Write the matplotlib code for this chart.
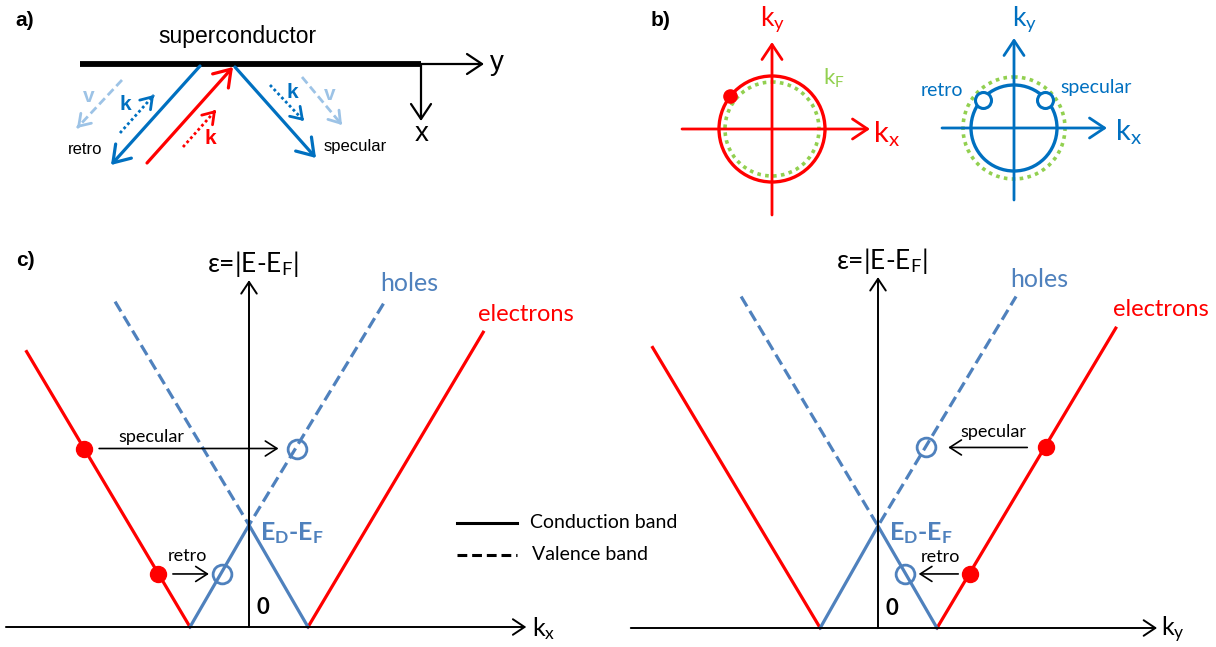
import numpy as np
import matplotlib.pyplot as plt
from matplotlib.patches import Circle

plt.rcParams['font.family'] = ['Lato', 'DejaVu Sans']
plt.rcParams['mathtext.fontset'] = 'custom'
plt.rcParams['mathtext.rm'] = 'Lato'
plt.rcParams['mathtext.it'] = 'Lato:italic'
plt.rcParams['mathtext.bf'] = 'Lato:bold'

RED = '#ff0000'
BLUE = '#0070c0'
LBLUE = '#9dc3e6'
CBLUE = '#4f81bd'
GREEN = '#92d050'
ARIAL = ['Liberation Sans', 'DejaVu Sans']

#---- Data

# panel a: sketch of the reflection geometry (pixel positions)
sc_x = [80, 421]
sc_y = [64, 64]
retro_path = [(200, 66), (111, 165)]
incident_path = [(147, 163), (233, 67)]
specular_path = [(235, 67), (316, 158)]
v_left = [(122, 80), (77, 128)]
k_left = [(120, 133), (154, 95)]
k_red = [(183, 147), (216, 110)]
k_right = [(270, 85), (304, 121)]
v_right = [(302, 77), (342, 125)]

# panel b: Fermi circles (centre x, centre y, radius in pixels)
fs_left = (772, 129, 53)
kf_left = (772, 129, 47)
fs_right = (1014, 128, 43)
kf_right = (1014, 128, 51)
dot_angle = 142
hole_b_x = [983, 1045]
hole_b_y = [100, 100]

# panel c, left: k_x in units of k_F, eps in units of E_D
elx_left_k = [-3.77, -1.0]
elx_left_e = [2.70, 0.0]
elx_right_k = [1.0, 3.97]
elx_right_e = [0.0, 2.89]
condx_k = [-1.0, 0.0, 1.0]
condx_e = [0.0, 1.0, 0.0]
valx_k = [-2.27, 0.0, 2.30]
valx_e = [3.19, 1.0, 3.19]
dotx_k = [-2.80, -1.54]
dotx_e = [1.75, 0.52]
holex_k = [0.82, -0.45]
holex_e = [1.75, 0.52]
specx_arrow = [-2.54, 0.50]
retrox_arrow = [-1.29, -0.68]

# panel c, right: k_y
ely_left_k = [-3.82, -0.98]
ely_left_e = [2.75, 0.0]
ely_right_k = [1.0, 4.03]
ely_right_e = [0.0, 2.94]
condy_k = [-0.98, 0.0, 1.0]
condy_e = [0.0, 1.0, 0.0]
valy_k = [-2.32, 0.0, 2.34]
valy_e = [3.25, 1.0, 3.25]
doty_k = [2.85, 1.56]
doty_e = [1.77, 0.53]
holey_k = [0.81, 0.46]
holey_e = [1.77, 0.53]
specy_arrow = [2.53, 1.19]
retroy_arrow = [1.36, 0.69]


#---- Helpers

def head_arrow(ax, p0, p1, color, lw, ms=15, hl=0.6, hw=0.4):
    ax.annotate('', xy=p1, xytext=p0,
                arrowprops=dict(arrowstyle='->, head_length=%g, head_width=%g' % (hl, hw),
                                color=color, lw=lw, shrinkA=0, shrinkB=0,
                                mutation_scale=ms))


def styled_arrow(ax, p0, p1, color, lw, ls):
    # line with a given style and a solid open head
    ax.plot([p0[0], p1[0]], [p0[1], p1[1]], color=color, lw=lw, ls=ls,
            solid_capstyle='butt')
    d = np.array(p1, float) - np.array(p0, float)
    d = d / np.hypot(*d)
    head_arrow(ax, tuple(np.array(p1) - 3 * d), p1, color, lw, ms=13)


def plot_bands(ax, el_l, el_r, cond, val, dots, holes, arrows, ax_ends, ytip):
    ax.plot(*el_l, color=RED, lw=2.3)
    ax.plot(*el_r, color=RED, lw=2.3)
    ax.plot(*cond, color=CBLUE, lw=2.3)
    ax.plot(*val, color=CBLUE, lw=2.3, ls=(0, (3.6, 1.7)))
    head_arrow(ax, (ax_ends[0], 0), (ax_ends[1], 0), 'k', 1.4, ms=14)
    head_arrow(ax, (0, 0), (0, ytip), 'k', 1.4, ms=14)
    ax.plot(*dots, 'o', color=RED, ms=11.5)
    ax.plot(*holes, 'o', mfc='none', mec=CBLUE, mew=2.0, ms=13.5)
    for (a0, a1), e in zip(arrows, dots[1]):
        head_arrow(ax, (a0, e), (a1, e), 'k', 1.2, ms=12, hl=0.7, hw=0.45)


#---- Figure

fig = plt.figure(figsize=(12.16, 6.47), dpi=100)
ax0 = fig.add_axes([0, 0, 1, 1])
ax0.set_xlim(0, 1216)
ax0.set_ylim(647, 0)
ax0.axis('off')

# ---> panel a
ax0.text(25, 21, 'a)', fontsize=15, fontweight='bold', family=ARIAL, ha='center', va='center')
ax0.text(237, 36, 'superconductor', fontsize=16.5, family=ARIAL, ha='center', va='center')
ax0.plot(sc_x, sc_y, color='k', lw=4.2, solid_capstyle='butt')
head_arrow(ax0, (sc_x[1], sc_y[1]), (484, 64), 'k', 1.6, ms=18)
head_arrow(ax0, (sc_x[1], sc_y[1]), (421, 121), 'k', 1.6, ms=18)
ax0.text(497, 63, 'y', fontsize=20, family=ARIAL, ha='center', va='center')
ax0.text(422, 134, 'x', fontsize=20, family=ARIAL, ha='center', va='center')

head_arrow(ax0, retro_path[0], retro_path[1], BLUE, 2.3, ms=19)
head_arrow(ax0, incident_path[0], incident_path[1], RED, 2.3, ms=19)
head_arrow(ax0, specular_path[0], specular_path[1], BLUE, 2.3, ms=19)
styled_arrow(ax0, v_left[0], v_left[1], LBLUE, 2.0, (0, (3, 1.5)))
styled_arrow(ax0, v_right[0], v_right[1], LBLUE, 2.0, (0, (3, 1.5)))
styled_arrow(ax0, k_left[0], k_left[1], BLUE, 2.0, (0, (1, 1)))
styled_arrow(ax0, k_right[0], k_right[1], BLUE, 2.0, (0, (1, 1)))
styled_arrow(ax0, k_red[0], k_red[1], RED, 2.0, (0, (1, 1)))
ax0.text(89, 96, 'v', fontsize=15, fontweight='bold', color=LBLUE, family=ARIAL, ha='center', va='center')
ax0.text(330, 95, 'v', fontsize=15, fontweight='bold', color=LBLUE, family=ARIAL, ha='center', va='center')
ax0.text(125, 105, 'k', fontsize=15, fontweight='bold', color=BLUE, family=ARIAL, ha='center', va='center')
ax0.text(292, 93, 'k', fontsize=15, fontweight='bold', color=BLUE, family=ARIAL, ha='center', va='center')
ax0.text(210, 139, 'k', fontsize=15, fontweight='bold', color=RED, family=ARIAL, ha='center', va='center')
ax0.text(85, 150, 'retro', fontsize=12, family=ARIAL, ha='center', va='center')
ax0.text(355, 146, 'specular', fontsize=12, family=ARIAL, ha='center', va='center')

# ---> panel b
ax0.text(661, 20, 'b)', fontsize=15, fontweight='bold', family=ARIAL, ha='center', va='center')
cx, cy, r = fs_left
head_arrow(ax0, (682, cy), (870, cy), RED, 2.0, ms=18)
head_arrow(ax0, (cx, 215), (cx, 42), RED, 2.0, ms=18)
ax0.add_patch(Circle((kf_left[0], kf_left[1]), kf_left[2], fill=False, ec=GREEN, lw=2.6, ls=(0, (1, 1.2))))
ax0.add_patch(Circle((cx, cy), r, fill=False, ec=RED, lw=2.4))
ax0.plot(cx + r * np.cos(np.radians(dot_angle)), cy - r * np.sin(np.radians(dot_angle)),
         'o', color=RED, ms=9.5)
ax0.text(773, 20, r'k$_\mathrm{y}$', fontsize=19, color=RED, ha='center', va='center')
ax0.text(886, 134, r'k$_\mathrm{x}$', fontsize=21, color=RED, ha='center', va='center')
ax0.text(834, 78, r'k$_\mathrm{F}$', fontsize=16, color=GREEN, ha='center', va='center')

cx, cy, r = fs_right
head_arrow(ax0, (942, cy), (1107, cy), BLUE, 2.0, ms=18)
head_arrow(ax0, (cx, 200), (cx, 38), BLUE, 2.0, ms=18)
ax0.add_patch(Circle((kf_right[0], kf_right[1]), kf_right[2], fill=False, ec=GREEN, lw=2.6, ls=(0, (1, 1.2))))
ax0.add_patch(Circle((cx, cy), r, fill=False, ec=BLUE, lw=2.4))
ax0.plot(hole_b_x, hole_b_y, 'o', mfc='white', mec=BLUE, mew=2.2, ms=11.5)
ax0.text(1025, 20, r'k$_\mathrm{y}$', fontsize=19, color=BLUE, ha='center', va='center')
ax0.text(1128, 132, r'k$_\mathrm{x}$', fontsize=21, color=BLUE, ha='center', va='center')
ax0.text(942, 90, 'retro', fontsize=14, color=BLUE, ha='center', va='center')
ax0.text(1096, 87, 'specular', fontsize=14, color=BLUE, ha='center', va='center')

# ---> panel c
ax0.text(25, 261, 'c)', fontsize=15, fontweight='bold', family=ARIAL, ha='center', va='center')
ax0.plot([457, 517], [523, 523], color='k', lw=2.2)
ax0.plot([457, 517], [555, 555], color='k', lw=2.2, ls=(0, (3.2, 1.6)))
ax0.text(530, 523, 'Conduction band', fontsize=14, ha='left', va='center')
ax0.text(532, 555, 'Valence band', fontsize=14, ha='left', va='center')

W, H = 1216.0, 647.0
kpx, epx = 59.0, 102.0   # pixels per k_F and per E_D

def band_axes(x0, x1, y0, y1, ox, oy):
    ax = fig.add_axes([x0 / W, 1 - y1 / H, (x1 - x0) / W, (y1 - y0) / H])
    ax.set_xlim((x0 - ox) / kpx, (x1 - ox) / kpx)
    ax.set_ylim((oy - y1) / epx, (oy - y0) / epx)
    ax.axis('off')
    ax.patch.set_alpha(0)
    return ax

eps_label = r'ε=$\vert$E-E$_\mathrm{F}$$\vert$'

axl = band_axes(0, 600, 250, 647, 249, 627)
plot_bands(axl, (elx_left_k, elx_left_e), (elx_right_k, elx_right_e),
           (condx_k, condx_e), (valx_k, valx_e), (dotx_k, dotx_e), (holex_k, holex_e),
           [specx_arrow, retrox_arrow], (-4.12, 4.70), 3.40)
axl.text(0.07, 3.56, eps_label, fontsize=19, ha='center', va='center')
axl.text(2.71, 3.37, 'holes', fontsize=18, color=CBLUE, ha='center', va='center')
axl.text(4.70, 3.06, 'electrons', fontsize=17, color=RED, ha='center', va='center')
axl.text(5.00, -0.02, r'k$_\mathrm{x}$', fontsize=18, ha='center', va='center')
axl.text(-1.66, 1.86, 'specular', fontsize=13, ha='center', va='center')
axl.text(-1.04, 0.70, 'retro', fontsize=13, ha='center', va='center')
axl.text(0.19, 0.92, r'$\mathbf{E_D}$-$\mathbf{E_F}$', fontsize=18, fontweight='bold',
         color=CBLUE, ha='left', va='center')
axl.text(0.24, 0.19, '0', fontsize=16, fontweight='bold', ha='center', va='center')

axr = band_axes(610, 1216, 250, 647, 878, 628)
plot_bands(axr, (ely_left_k, ely_left_e), (ely_right_k, ely_right_e),
           (condy_k, condy_e), (valy_k, valy_e), (doty_k, doty_e), (holey_k, holey_e),
           [specy_arrow, retroy_arrow], (-4.19, 4.73), 3.44)
axr.text(0.07, 3.60, eps_label, fontsize=19, ha='center', va='center')
axr.text(2.73, 3.42, 'holes', fontsize=18, color=CBLUE, ha='center', va='center')
axr.text(4.80, 3.12, 'electrons', fontsize=17, color=RED, ha='center', va='center')
axr.text(5.00, -0.02, r'k$_\mathrm{y}$', fontsize=18, ha='center', va='center')
axr.text(1.95, 1.92, 'specular', fontsize=13, ha='center', va='center')
axr.text(1.05, 0.70, 'retro', fontsize=13, ha='center', va='center')
axr.text(0.19, 0.93, r'$\mathbf{E_D}$-$\mathbf{E_F}$', fontsize=18, fontweight='bold',
         color=CBLUE, ha='left', va='center')
axr.text(0.24, 0.19, '0', fontsize=16, fontweight='bold', ha='center', va='center')

fig.savefig('out.png', dpi=100)
